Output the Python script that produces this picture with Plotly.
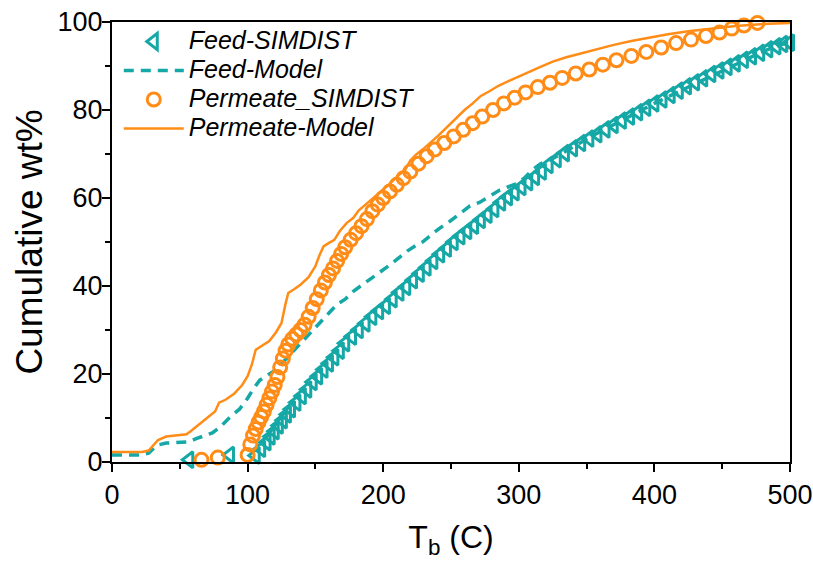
import plotly.graph_objects as go

# ---- data ----
feed_simdist_T = [57, 87, 106, 110, 114, 117, 120, 123, 126, 129, 132, 136, 140, 144, 148, 152, 156, 160, 164, 168,
                  172, 177, 182, 187, 192, 197, 202, 207, 212, 217, 222, 227, 232, 237, 242, 247, 252, 257, 262, 267,
                  272, 277, 282, 287, 292, 297, 302, 307, 312, 317, 322, 328, 334, 340, 346, 352, 358, 364, 370, 376,
                  382, 388, 394, 400, 406, 412, 418, 424, 430, 436, 442, 448, 454, 460, 466, 472, 478, 484, 490, 495, 500]
feed_simdist_W = [0.5, 1.6, 1.5, 3.0, 4.5, 5.8, 7.0, 8.3, 9.5, 10.8, 12.0, 13.5, 15.0, 16.5, 18.2, 19.5, 21.0, 22.4, 23.8, 25.3,
                  27.0, 28.5, 30.0, 31.5, 33.0, 34.3, 35.5, 37.0, 38.5, 39.8, 41.3, 42.8, 44.2, 45.7, 47.2, 48.5, 50.0, 51.3, 52.5, 53.7,
                  55.0, 56.2, 57.5, 59.0, 60.2, 61.3, 62.5, 63.6, 64.8, 66.0, 67.5, 68.8, 70.2, 71.3, 72.5, 73.5, 74.5, 75.6, 76.6, 77.6,
                  78.5, 79.5, 80.5, 81.5, 82.4, 83.4, 84.4, 85.4, 86.3, 87.2, 88.2, 89.0, 89.8, 90.6, 91.4, 92.2, 93.0, 93.8, 94.5, 95.0, 95.3]

feed_model_T = [0, 22, 27, 33, 40, 57, 62, 68, 74, 80, 87, 94, 100, 104, 109, 115, 121, 128, 136, 143, 150, 156, 161, 166,
                172, 178, 185, 192, 199, 205, 212, 218, 224, 229, 235, 241, 247, 252, 258, 264, 271, 278, 286, 292, 298,
                304, 310, 316, 322, 330, 338, 346, 355, 364, 373, 382, 391, 400, 410, 420, 430, 440, 450, 460, 470, 480, 490, 500]
feed_model_W = [1.6, 1.6, 2.0, 3.8, 4.3, 4.6, 5.3, 6.0, 6.6, 8.0, 10.2, 12.0, 14.5, 16.5, 18.6, 19.8, 21.0, 23.3, 26.0, 28.3,
                30.5, 32.5, 34.2, 35.8, 37.0, 38.8, 40.3, 42.0, 43.5, 44.8, 46.5, 48.0, 49.2, 50.0, 51.5, 53.0, 54.2, 55.3,
                56.8, 58.2, 59.0, 60.3, 61.8, 62.5, 63.2, 64.5, 66.4, 67.8, 68.5, 69.8, 71.3, 72.8, 74.3, 75.7, 77.2, 78.6,
                80.0, 81.5, 83.0, 84.5, 86.0, 87.5, 89.0, 90.5, 92.0, 93.3, 94.5, 95.5]

perm_simdist_T = [66, 78, 100, 102, 104, 106, 108, 110, 112, 114, 116, 118, 120, 122, 124, 126, 128, 130, 133, 136, 139, 142,
                  145, 148, 151, 154, 157, 160, 163, 166, 169, 172, 176, 180, 184, 188, 192, 196, 200, 205, 210, 215, 220,
                  226, 232, 238, 245, 252, 259, 266, 273, 281, 289, 297, 305, 314, 323, 332, 342, 352, 362, 372, 383, 394,
                  405, 416, 427, 438, 448, 457, 466, 476]
perm_simdist_W = [0.5, 1.0, 1.6, 4.0, 6.0, 7.5, 9.0, 10.2, 11.5, 13.0, 14.5, 16.0, 17.5, 19.3, 21.5, 23.5, 25.3, 26.7, 28.0,
                  29.0, 30.0, 31.2, 33.0, 35.0, 37.0, 39.0, 40.8, 42.5, 44.0, 45.7, 47.3, 48.8, 50.5, 52.0, 53.6, 55.2, 57.0,
                  58.5, 60.0, 61.5, 63.0, 64.5, 66.0, 67.8, 69.5, 71.0, 72.5, 74.0, 75.5, 77.0, 78.5, 80.0, 81.5, 82.8, 84.0,
                  85.2, 86.2, 87.3, 88.3, 89.2, 90.3, 91.3, 92.3, 93.2, 94.2, 95.2, 96.0, 96.8, 97.6, 98.5, 99.2, 99.8]

perm_model_T = [0, 22, 27, 34, 40, 55, 58, 64, 70, 76, 79, 84, 90, 96, 100, 103, 106, 110, 116, 121, 125, 128, 130, 134,
                139, 145, 150, 153, 156, 160, 164, 168, 173, 178, 182, 187, 192, 198, 204, 210, 216, 220, 224, 229, 234,
                240, 245, 250, 255, 260, 266, 272, 278, 285, 292, 299, 307, 316, 325, 335, 345, 357, 370, 383, 395, 410,
                425, 443, 460, 478, 492, 500]
perm_model_W = [2.3, 2.3, 2.6, 5.0, 5.8, 6.3, 7.0, 8.5, 10.0, 11.5, 13.5, 14.2, 15.5, 17.5, 19.5, 22.0, 25.5, 26.3, 27.5,
                29.5, 31.6, 36.0, 38.4, 39.2, 40.3, 42.0, 44.5, 47.0, 49.0, 49.8, 50.5, 52.5, 54.3, 55.5, 57.2, 58.5, 59.8,
                61.3, 63.0, 64.8, 66.3, 68.5, 69.8, 71.0, 72.3, 74.0, 75.5, 77.0, 78.4, 80.0, 81.5, 83.2, 84.2, 85.5, 86.5,
                87.5, 88.5, 89.8, 91.0, 92.0, 92.8, 93.8, 94.8, 95.7, 96.4, 97.2, 97.9, 98.6, 99.1, 99.5, 99.7, 99.8]

x_ticks = [0, 100, 200, 300, 400, 500]
y_ticks = [0, 20, 40, 60, 80, 100]
legend_names = ["Feed-SIMDIST", "Feed-Model", "Permeate_SIMDIST", "Permeate-Model"]

TEAL = "#15A8A6"
ORANGE = "#FF8C17"
FONT = "Liberation Sans, Arial, sans-serif"


def lbl(s):
    return '<span style="font-size:25px"><i>' + s + '</i></span>'


fig = go.Figure()
fig.add_trace(go.Scatter(
    x=feed_simdist_T, y=feed_simdist_W, mode="markers", name=lbl(legend_names[0]),
    marker=dict(symbol="triangle-left-open", size=14, color=TEAL, line=dict(width=3, color=TEAL)),
    cliponaxis=False))
fig.add_trace(go.Scatter(
    x=feed_model_T, y=feed_model_W, mode="lines", name=lbl(legend_names[1]),
    line=dict(color=TEAL, width=3.5, dash="10px,7px")))
fig.add_trace(go.Scatter(
    x=perm_simdist_T, y=perm_simdist_W, mode="markers", name=lbl(legend_names[2]),
    marker=dict(symbol="circle-open", size=13, color=ORANGE, line=dict(width=3, color=ORANGE)),
    cliponaxis=False))
fig.add_trace(go.Scatter(
    x=perm_model_T, y=perm_model_W, mode="lines", name=lbl(legend_names[3]),
    line=dict(color=ORANGE, width=2.5)))

fig.update_layout(
    width=813, height=562,
    margin=dict(l=112, r=23, t=22, b=100, autoexpand=False),
    paper_bgcolor="white", plot_bgcolor="white",
    font=dict(family=FONT, size=27, color="black"),
    showlegend=True,
    legend=dict(x=0.01, y=1.0, xanchor="left", yanchor="top",
                bgcolor="rgba(0,0,0,0)", borderwidth=0,
                font=dict(family=FONT, size=20, color="black"),
                itemwidth=60, tracegroupgap=0),
)
fig.update_xaxes(
    range=[0, 500], tickvals=x_ticks, ticktext=[str(v) for v in x_ticks],
    showline=True, linecolor="black", linewidth=2, mirror=True,
    ticks="outside", ticklen=8, tickwidth=2, tickcolor="black",
    minor=dict(dtick=50, ticks="outside", ticklen=5, tickwidth=2, tickcolor="black"),
    showgrid=False, zeroline=False, automargin=False,
    tickfont=dict(family=FONT, size=27),
    title=dict(text="T<sub>b</sub> (C)", font=dict(family=FONT, size=32), standoff=16),
)
fig.update_yaxes(
    range=[0, 100], tickvals=y_ticks, ticktext=[str(v) for v in y_ticks],
    showline=True, linecolor="black", linewidth=2, mirror=True,
    ticks="outside", ticklen=8, tickwidth=2, tickcolor="black",
    minor=dict(dtick=10, ticks="outside", ticklen=5, tickwidth=2, tickcolor="black"),
    showgrid=False, zeroline=False, automargin=False,
    ticklabelstandoff=-6,
    tickfont=dict(family=FONT, size=27),
    title=dict(text="Cumulative wt%", font=dict(family=FONT, size=37), standoff=4),
)

fig.write_html("out.html")
